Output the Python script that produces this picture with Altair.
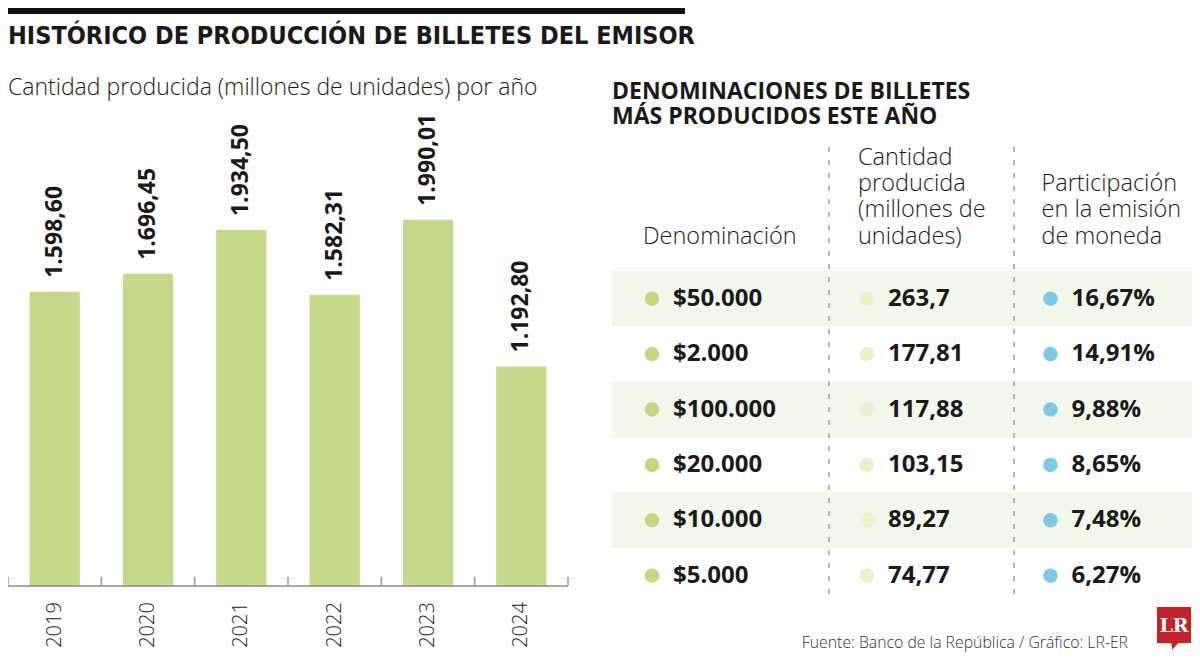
import altair as alt
import pandas as pd

# ---------------- data ----------------
years = ["2019", "2020", "2021", "2022", "2023", "2024"]
production = [1598.60, 1696.45, 1934.50, 1582.31, 1990.01, 1192.80]

denominations = [50000, 2000, 100000, 20000, 10000, 5000]
quantity = [263.7, 177.81, 117.88, 103.15, 89.27, 74.77]
share = [16.67, 14.91, 9.88, 8.65, 7.48, 6.27]

TITLE = "HISTÓRICO DE PRODUCCIÓN DE BILLETES DEL EMISOR"
SUBTITLE = "Cantidad producida (millones de unidades) por año"
TABLE_TITLE = ["DENOMINACIONES DE BILLETES", "MÁS PRODUCIDOS ESTE AÑO"]
headers = ["Denominación", "Cantidad\nproducida\n(millones de\nunidades)", "Participación\nen la emisión\nde moneda"]
SOURCE = "Fuente: Banco de la República / Gráfico: LR-ER"
LOGO = "LR"

# ---------------- style ----------------
W, H = 1184, 645
BAR = "#c5da88"
ROWBG = "#f1f7ea"
DOT1, DOT2, DOT3 = "#c3d87f", "#edf1c9", "#7fc9e4"
INK = "#1a1a1a"
GRID = "#8a8a8a"
SANS = "Open Sans, Noto Sans, sans-serif"
NARROW = "DejaVu Sans Condensed, sans-serif"
HEAD_LH = 26.3

one = pd.DataFrame({"k": [0]})
bars_df = pd.DataFrame({"year": years, "value": production})
tbl = pd.DataFrame({"row": list(range(len(denominations))), "denom": denominations,
                    "qty": quantity, "share": share})


def swap(expr):
    return ("replace(replace(replace(" + expr + ", regexp(',', 'g'), '_'), "
            "regexp('[.]', 'g'), ','), regexp('_', 'g'), '.')")


def deco_text(txt, x, y, size, weight="normal", font=SANS, color=INK, align="left",
              baseline="middle", **kw):
    return alt.Chart(one).mark_text(text=txt, font=font, fontSize=size, fontWeight=weight,
                                    color=color, align=align, baseline=baseline, **kw).encode(
        x=alt.value(x), y=alt.value(y))


layers = []

# top black rule + titles
layers.append(alt.Chart(one).mark_rect(color="#111111").encode(
    x=alt.value(0), x2=alt.value(677), y=alt.value(0), y2=alt.value(6)))
layers.append(deco_text(TITLE, 0, 28, 25, "bold", NARROW))
layers.append(deco_text(SUBTITLE, 0, 80, 23, 300))

# ---------------- bar chart ----------------
xs = alt.Scale(domain=years, range=[0, 560], paddingInner=0, paddingOuter=0)
ys = alt.Scale(domain=[0, 2000], range=[578, 210], nice=False)

layers.append(alt.Chart(bars_df).mark_bar(color=BAR, width=alt.RelativeBandSize(0.536)).encode(
    x=alt.X("year:N", scale=xs, axis=None),
    y=alt.Y("value:Q", scale=ys, axis=None)))

layers.append(alt.Chart(bars_df).transform_calculate(
    lbl=swap("format(datum.value, ',.2f')")
).mark_text(angle=270, align="left", baseline="middle", dx=14, font=SANS, fontSize=23,
            fontWeight="bold", color=INK).encode(
    x=alt.X("year:N", scale=xs, axis=None, bandPosition=0.5),
    y=alt.Y("value:Q", scale=ys, axis=None),
    text="lbl:N"))

# axis line and ticks
layers.append(alt.Chart(one).mark_rule(color=GRID, strokeWidth=1.3).encode(
    x=alt.value(0), x2=alt.value(560), y=alt.value(578)))
layers.append(alt.Chart(bars_df).mark_rule(color=GRID, strokeWidth=1.3).encode(
    x=alt.X("year:N", scale=xs, axis=None, bandPosition=0),
    y=alt.value(569), y2=alt.value(578)))
layers.append(alt.Chart(bars_df).transform_filter(f"datum.year == '{years[-1]}'").mark_rule(
    color=GRID, strokeWidth=1.3).encode(
    x=alt.X("year:N", scale=xs, axis=None, bandPosition=1),
    y=alt.value(569), y2=alt.value(578)))

layers.append(alt.Chart(bars_df).mark_text(angle=270, align="center", baseline="middle",
                                           font=SANS, fontSize=20, fontWeight=300,
                                           color=INK).encode(
    x=alt.X("year:N", scale=xs, axis=None, bandPosition=0.5),
    y=alt.value(617),
    text="year:N"))

# ---------------- table ----------------
layers.append(deco_text(TABLE_TITLE[0], 604, 84, 23, "bold"))
layers.append(deco_text(TABLE_TITLE[1], 604, 109, 23, "bold"))

ybg = alt.Scale(type="band", domain=list(range(6)), range=[263, 595.4], paddingInner=0,
                paddingOuter=0)
layers.append(alt.Chart(tbl).transform_filter("datum.row % 2 == 0").mark_rect(color=ROWBG).encode(
    y=alt.Y("row:O", scale=ybg, axis=None), x=alt.value(604), x2=alt.value(1184)))

for xpos in (821, 1006):
    layers.append(alt.Chart(one).mark_rule(color=GRID, strokeWidth=1.2, strokeDash=[5, 8]).encode(
        x=alt.value(xpos), y=alt.value(139), y2=alt.value(594)))

yp = alt.Scale(type="point", domain=list(range(6)), range=[290.7, 567.7], padding=0)
cols = [
    ("denom", swap("format(datum.denom, '$,')"), DOT1, 665),
    ("qty", swap("format(datum.qty, ',.2~f')"), DOT2, 880),
    ("share", swap("format(datum.share, '.2f')") + " + '%'", DOT3, 1063.5),
]
for (field, expr, dcol, xt), head in zip(cols, headers):
    layers.append(alt.Chart(tbl).mark_circle(size=210, color=dcol, opacity=1).encode(
        x=alt.value(xt - 21), y=alt.Y("row:O", scale=yp, axis=None)))
    layers.append(alt.Chart(tbl).transform_calculate(lbl=expr).mark_text(
        align="left", baseline="middle", font=SANS, fontSize=24, fontWeight="bold",
        color=INK).encode(
        x=alt.value(xt), y=alt.Y("row:O", scale=yp, axis=None), text="lbl:N"))
    n_lines = head.count("\n") + 1
    layers.append(deco_text(head, xt - 30, 240.7 - (n_lines - 1) * HEAD_LH, 23.5, 300,
                            baseline="bottom", lineBreak="\n", lineHeight=HEAD_LH))

# ---------------- footer ----------------
layers.append(deco_text(SOURCE, 1120, 635, 15.8, 300, align="right", color="#333333"))
layers.append(alt.Chart(one).mark_rect(color="#c8202a").encode(
    x=alt.value(1149), x2=alt.value(1183), y=alt.value(599), y2=alt.value(635)))
layers.append(alt.Chart(one).mark_point(shape="M -1 -1 L 1 -1 L -0.7 1 Z", filled=True,
                                        color="#c8202a", size=60, opacity=1).encode(
    x=alt.value(1167), y=alt.value(638)))
layers.append(deco_text(LOGO, 1166, 618, 19, "bold", "DejaVu Serif, Liberation Serif, serif",
                        color="white", align="center"))

chart = alt.layer(*layers).resolve_scale(x="independent", y="independent").properties(
    width=W, height=H, autosize=alt.AutoSizeParams(type="none"), padding=0,
    background="white"
).configure_view(strokeWidth=0)

chart.save("out.html", embed_options={"renderer": "svg", "actions": False})
